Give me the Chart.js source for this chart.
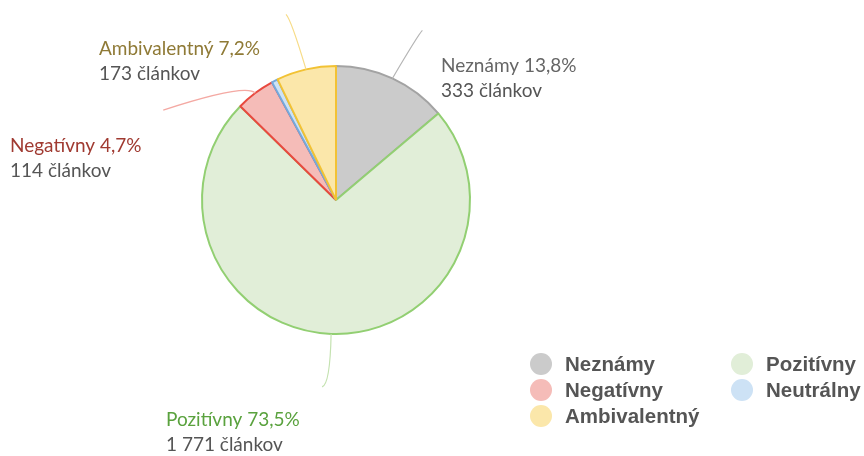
<!DOCTYPE html>
<html>
<head>
<meta charset="utf-8">
<script src="https://cdn.jsdelivr.net/npm/chart.js@4"></script>
<style>
  html, body { margin: 0; padding: 0; background: #fff; }
  #wrap { width: 864px; height: 456px; }
</style>
</head>
<body>
<div id="wrap"><canvas id="myChart" width="864" height="456"></canvas></div>
<script>
// Data
const categories = ["Neznámy", "Pozitívny", "Negatívny", "Neutrálny", "Ambivalentný"];
const articleCounts = [333, 1771, 114, 18, 173];
const unitLabel = "článkov";
const labelledSlices = [0, 1, 2, 4]; // Neutrálny has no callout

// Styles
const fillColors = ["#cbcbcb", "#e1eed8", "#f5bcb8", "#cde2f5", "#fbe7aa"];
const borderColors = ["#a3a3a3", "#92cf72", "#e8493f", "#74a9dc", "#f2c234"];
const lineColors = ["#b5b5b5", "#c4e2b0", "#f4a9a3", "#b9d6ef", "#f7dc88"];
const titleColors = ["#666666", "#5aa23e", "#a03a31", "#5b8fbf", "#8f7a36"];

// callout geometry: control / end offsets from slice edge, text position
const callouts = {
    0: { c: [26, -44], e: [30, -48], tx: 441, ty: 72 },
    1: { c: [-1, 50], e: [-9, 53], tx: 166, ty: 426 },
    2: { c: [-9, -10], e: [-92, 17], tx: 10, ty: 152 },
    4: { c: [-15, -50], e: [-20, -55], tx: 99, ty: 55 }
};

const total = articleCounts.reduce((a, b) => a + b, 0);

function formatPercent(v) {
    return (v / total * 100).toFixed(1).replace('.', ',') + '%';
}

function formatCount(v) {
    return String(v).replace(/\B(?=(\d{3})+(?!\d))/g, ' ');
}

// Draws callout lines and labels next to slices
const calloutPlugin = {
    id: 'callouts',
    afterDatasetsDraw(chart) {
        const ctx = chart.ctx;
        const meta = chart.getDatasetMeta(0);
        labelledSlices.forEach(i => {
            const arc = meta.data[i];
            const mid = (arc.startAngle + arc.endAngle) / 2;
            const sx = arc.x + Math.cos(mid) * arc.outerRadius;
            const sy = arc.y + Math.sin(mid) * arc.outerRadius;
            const c = callouts[i];
            ctx.save();
            ctx.strokeStyle = lineColors[i];
            ctx.lineWidth = 1.2;
            ctx.beginPath();
            ctx.moveTo(sx, sy);
            ctx.quadraticCurveTo(sx + c.c[0], sy + c.c[1], sx + c.e[0], sy + c.e[1]);
            ctx.stroke();

            ctx.textAlign = 'left';
            ctx.textBaseline = 'alphabetic';
            ctx.font = '19px Lato';
            ctx.fillStyle = titleColors[i];
            ctx.fillText(categories[i] + ' ' + formatPercent(articleCounts[i]), c.tx, c.ty);
            ctx.fillStyle = '#555555';
            ctx.fillText(formatCount(articleCounts[i]) + ' ' + unitLabel, c.tx, c.ty + 25);
            ctx.restore();
        });
    }
};

// Two-column legend at bottom right
const legendPlugin = {
    id: 'sideLegend',
    afterDraw(chart) {
        const ctx = chart.ctx;
        const colX = [541, 742];
        const rowY = [364, 390, 416];
        ctx.save();
        ctx.font = 'bold 20.5px "Liberation Sans"';
        ctx.textBaseline = 'middle';
        ctx.textAlign = 'left';
        categories.forEach((name, i) => {
            // left column: Neznámy, Negatívny, Ambivalentný; right: Pozitívny, Neutrálny
            const col = i === 0 || i === 2 || i === 4 ? 0 : 1;
            const row = col === 0 ? [0, 0, 1, 0, 2][i] : [0, 0, 0, 1, 0][i];
            const x = colX[col];
            const y = rowY[row];
            ctx.fillStyle = fillColors[i];
            ctx.beginPath();
            ctx.arc(x, y, 11, 0, Math.PI * 2);
            ctx.fill();
            ctx.fillStyle = '#555555';
            ctx.fillText(name, x + 24, y + 1);
        });
        ctx.restore();
    }
};

const ctx = document.getElementById('myChart').getContext('2d');
const myChart = new Chart(ctx, {
    type: 'pie',
    data: {
        labels: categories,
        datasets: [{
            data: articleCounts,
            backgroundColor: fillColors,
            borderColor: borderColors,
            borderWidth: 2
        }]
    },
    options: {
        responsive: false,
        animation: false,
        layout: {
            padding: { left: 201, right: 393, top: 65, bottom: 121 }
        },
        plugins: {
            legend: { display: false },
            tooltip: { enabled: false }
        }
    },
    plugins: [calloutPlugin, legendPlugin]
});
</script>
</body>
</html>
